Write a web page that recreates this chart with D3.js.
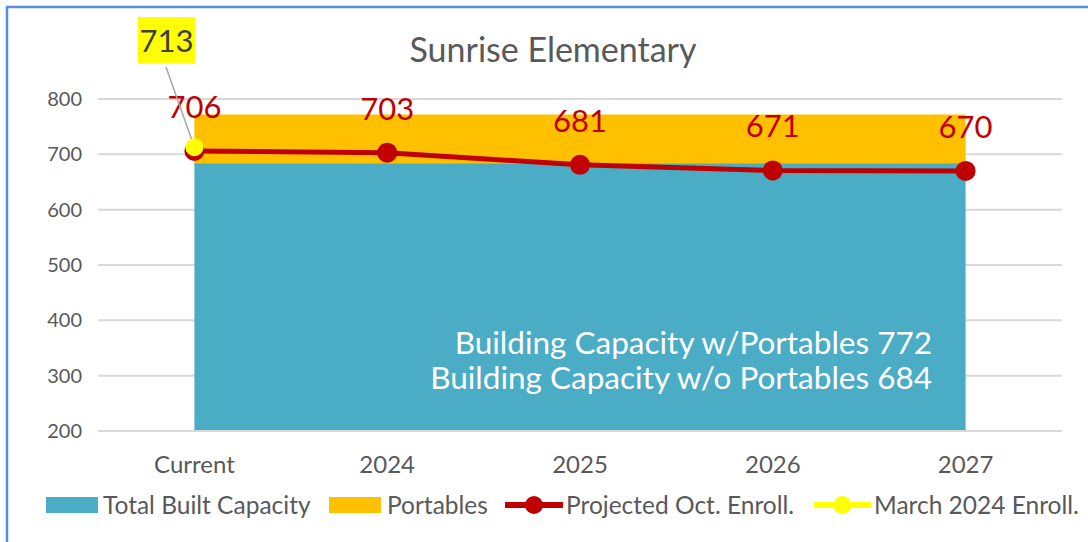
<!DOCTYPE html>
<html>
<head>
<meta charset="utf-8">
<script src="https://cdn.jsdelivr.net/npm/d3@7"></script>
<style>
  body { margin: 0; background: #fff; }
  svg { font-family: Lato, "Open Sans", sans-serif; }
</style>
</head>
<body>
<div id="chart"></div>
<script>
// --- Data ---
const categories = ["Current", "2024", "2025", "2026", "2027"];
const builtCapacity = [684, 684, 684, 684, 684];
const withPortables = [772, 772, 772, 772, 772];
const projectedEnroll = [706, 703, 681, 671, 670];
const marchEnroll = [713];
const yTicks = [200, 300, 400, 500, 600, 700, 800];
const legendItems = ["Total Built Capacity", "Portables", "Projected Oct. Enroll.", "March 2024 Enroll."];
const capacityNotes = ["Building Capacity w/Portables 772", "Building Capacity w/o Portables 684"];

const width = 1088, height = 542;
const margin = { top: 99, right: 26, bottom: 111, left: 98 };

const svg = d3.select("#chart").append("svg")
  .attr("width", width)
  .attr("height", height);

// outer frame (only top/left visible in reference)
svg.append("path")
  .attr("d", `M7,${height} L7,7 L${width},7`)
  .attr("fill", "none")
  .attr("stroke", "#5b8fd3")
  .attr("stroke-width", 2.5);

const x = d3.scaleBand()
  .domain(categories)
  .range([margin.left, width - margin.right]);
const cx = (d) => x(d) + x.bandwidth() / 2;

const y = d3.scaleLinear()
  .domain([200, 800])
  .range([height - margin.bottom, margin.top]);

// title
svg.append("text")
  .attr("x", 553).attr("y", 62)
  .attr("text-anchor", "middle")
  .style("font-size", "34px")
  .style("fill", "#595959")
  .text("Sunrise Elementary");

// gridlines
svg.append("g")
  .selectAll("line")
  .data(yTicks)
  .enter().append("line")
  .attr("x1", margin.left).attr("x2", width - margin.right)
  .attr("y1", (d) => y(d)).attr("y2", (d) => y(d))
  .attr("stroke", "#d9d9d9")
  .attr("stroke-width", 2);

// y axis labels
const yAxis = d3.axisLeft(y).tickValues(yTicks).tickSize(0).tickPadding(0);
const yg = svg.append("g")
  .attr("transform", `translate(${margin.left - 16},0)`)
  .call(yAxis);
yg.select(".domain").remove();
yg.selectAll("text")
  .style("font-family", "Lato, 'Open Sans', sans-serif")
  .style("font-size", "20px")
  .style("fill", "#595959");

// areas
const rows = categories.map((c, i) => ({ c, built: builtCapacity[i], port: withPortables[i] }));

svg.append("path")
  .datum(rows)
  .attr("fill", "#ffc000")
  .attr("d", d3.area().x((d) => cx(d.c)).y0((d) => y(d.built)).y1((d) => y(d.port)));

svg.append("path")
  .datum(rows)
  .attr("fill", "#4bacc6")
  .attr("d", d3.area().x((d) => cx(d.c)).y0(y(200)).y1((d) => y(d.built)));

// redraw baseline over area
svg.append("line")
  .attr("x1", margin.left).attr("x2", width - margin.right)
  .attr("y1", y(200)).attr("y2", y(200))
  .attr("stroke", "#d9d9d9").attr("stroke-width", 2);

// x axis labels
const xAxis = d3.axisBottom(x).tickSize(0).tickPadding(0);
const xg = svg.append("g")
  .attr("transform", `translate(0,${y(200) + 25})`)
  .call(xAxis);
xg.select(".domain").remove();
xg.selectAll("text")
  .attr("dy", "0.71em")
  .style("font-family", "Lato, 'Open Sans', sans-serif")
  .style("font-size", "24px")
  .style("fill", "#595959");

// capacity notes
svg.append("g")
  .selectAll("text")
  .data(capacityNotes)
  .enter().append("text")
  .attr("x", 932)
  .attr("y", (d, i) => 354 + i * 35)
  .attr("text-anchor", "end")
  .style("font-size", "31.5px")
  .style("fill", "#fff")
  .text((d) => d);

// projected line
const line = d3.line().x((d, i) => cx(categories[i])).y((d) => y(d));
svg.append("path")
  .datum(projectedEnroll)
  .attr("fill", "none")
  .attr("stroke", "#c00000")
  .attr("stroke-width", 5)
  .attr("d", line);

svg.append("g")
  .selectAll("circle")
  .data(projectedEnroll)
  .enter().append("circle")
  .attr("cx", (d, i) => cx(categories[i]))
  .attr("cy", (d) => y(d))
  .attr("r", 10)
  .attr("fill", "#c00000");

svg.append("g")
  .selectAll("text")
  .data(projectedEnroll)
  .enter().append("text")
  .attr("x", (d, i) => cx(categories[i]))
  .attr("y", (d) => y(d) - 33)
  .attr("text-anchor", "middle")
  .style("font-size", "31px")
  .style("fill", "#c00000")
  .text((d) => d);

// March 2024 marker with callout
const mx = cx(categories[0]), my = y(marchEnroll[0]);
svg.append("line")
  .attr("x1", 166).attr("y1", 67)
  .attr("x2", mx).attr("y2", my)
  .attr("stroke", "#a6a6a6").attr("stroke-width", 1.5);

svg.append("circle")
  .attr("cx", mx).attr("cy", my)
  .attr("r", 9)
  .attr("fill", "#ffff00");

svg.append("rect")
  .attr("x", 138).attr("y", 17)
  .attr("width", 57).attr("height", 46)
  .attr("fill", "#ffff00");
svg.append("text")
  .attr("x", 166.5).attr("y", 52)
  .attr("text-anchor", "middle")
  .style("font-size", "31px")
  .style("fill", "#404040")
  .text(marchEnroll[0]);

// legend
const legend = svg.append("g").attr("transform", "translate(0,505)");
const lg = [
  { x: 46, w: 52, tx: 103, type: "rect", color: "#4bacc6" },
  { x: 329, w: 52, tx: 387, type: "rect", color: "#ffc000" },
  { x: 505, w: 58, tx: 566, type: "line", color: "#c00000" },
  { x: 814, w: 57, tx: 874, type: "line", color: "#ffff00" }
];
lg.forEach((d, i) => {
  const g = legend.append("g");
  if (d.type === "rect") {
    g.append("rect").attr("x", d.x).attr("y", -8).attr("width", d.w).attr("height", 16).attr("fill", d.color);
  } else {
    g.append("line").attr("x1", d.x).attr("x2", d.x + d.w).attr("y1", 0).attr("y2", 0)
      .attr("stroke", d.color).attr("stroke-width", 6);
    g.append("circle").attr("cx", d.x + d.w / 2).attr("cy", 0).attr("r", 9).attr("fill", d.color);
  }
  g.append("text")
    .attr("x", d.tx)
    .attr("y", 0)
    .attr("dy", "0.35em")
    .style("font-size", "24.5px")
    .style("fill", "#595959")
    .text(legendItems[i]);
});
</script>
</body>
</html>
